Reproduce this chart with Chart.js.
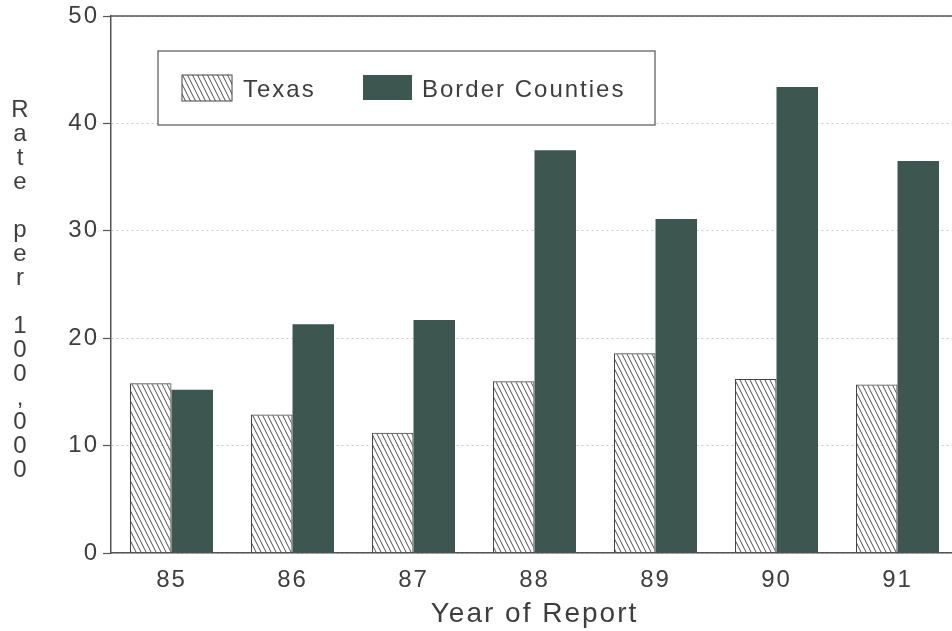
<!DOCTYPE html>
<html>
<head>
<meta charset="utf-8">
<script src="https://cdn.jsdelivr.net/npm/chart.js@4"></script>
<style>
  html, body { margin: 0; padding: 0; background: #fff; overflow: hidden; }
  .wrap { width: 970px; height: 631px; position: relative; }
</style>
</head>
<body>
<div class="wrap"><canvas id="barChart"></canvas></div>
<script>
const years = ["85", "86", "87", "88", "89", "90", "91"];
const texasRates = [15.8, 12.9, 11.2, 16.0, 18.6, 16.2, 15.7];
const borderRates = [15.2, 21.3, 21.7, 37.5, 31.1, 43.4, 36.5];
const yTicks = [0, 10, 20, 30, 40, 50];
const yTitle = "Rate per 100,000";

const inkColor = "#3e3e3e";
const axisColor = "#555";
const borderFill = "#3d5650";
const fontFamily = "'Liberation Sans', Arial, sans-serif";

// Hatch pattern for Texas bars (lines going down to the right)
function makeHatch() {
  const tile = document.createElement("canvas");
  tile.width = 5;
  tile.height = 10;
  const c = tile.getContext("2d");
  c.strokeStyle = "#3a3a3a";
  c.lineWidth = 0.9;
  [-5, 0, 5].forEach((dx) => {
    c.beginPath();
    c.moveTo(dx, 0);
    c.lineTo(dx + 5, 10);
    c.stroke();
  });
  return c.createPattern(tile, "repeat");
}
const hatch = makeHatch();

// Wide letter spacing for every text on the canvas
const spacingPlugin = {
  id: "spacing",
  beforeLayout(chart) {
    chart.ctx.letterSpacing = "2px";
  },
  beforeDraw(chart) {
    chart.ctx.letterSpacing = "2px";
  },
};

// Top frame line, stacked y title and boxed legend
const extrasPlugin = {
  id: "extras",
  afterDraw(chart) {
    const ctx = chart.ctx;
    const area = chart.chartArea;
    ctx.save();
    ctx.letterSpacing = "0px";

    // top frame
    ctx.strokeStyle = axisColor;
    ctx.lineWidth = 1.5;
    ctx.beginPath();
    ctx.moveTo(area.left, area.top);
    ctx.lineTo(area.right, area.top);
    ctx.stroke();

    // vertical title, one character per line
    ctx.fillStyle = inkColor;
    ctx.font = "24px " + fontFamily;
    ctx.textAlign = "center";
    ctx.textBaseline = "middle";
    yTitle.split("").forEach((ch, i) => {
      if (ch !== " ") ctx.fillText(ch, 20, 110 + i * 24);
    });

    // legend box
    const lx = area.left + 47;
    const ly = area.top + 35;
    ctx.fillStyle = "#fff";
    ctx.fillRect(lx, ly, 497, 74);
    ctx.strokeStyle = axisColor;
    ctx.lineWidth = 1.2;
    ctx.strokeRect(lx, ly, 497, 74);

    ctx.fillStyle = hatch;
    ctx.fillRect(lx + 24, ly + 24, 50, 26);
    ctx.strokeStyle = "#444";
    ctx.lineWidth = 1;
    ctx.strokeRect(lx + 24, ly + 24, 50, 26);

    ctx.fillStyle = borderFill;
    ctx.fillRect(lx + 205, ly + 24, 49, 25);

    ctx.letterSpacing = "2px";
    ctx.fillStyle = inkColor;
    ctx.textAlign = "left";
    ctx.font = "24px " + fontFamily;
    ctx.fillText(chart.data.datasets[0].label, lx + 85, ly + 39);
    ctx.fillText(chart.data.datasets[1].label, lx + 264, ly + 39);
    ctx.restore();
  },
};

const barChart = new Chart(document.getElementById("barChart"), {
  type: "bar",
  data: {
    labels: years,
    datasets: [
      {
        label: "Texas",
        data: texasRates,
        backgroundColor: hatch,
        borderColor: "#444",
        borderWidth: 1,
        borderSkipped: "bottom",
      },
      {
        label: "Border Counties",
        data: borderRates,
        backgroundColor: borderFill,
        borderWidth: 0,
      },
    ],
  },
  options: {
    responsive: true,
    maintainAspectRatio: false,
    animation: false,
    categoryPercentage: 0.686,
    barPercentage: 1,
    layout: { padding: { top: 15, right: 12, left: 0, bottom: 0 } },
    plugins: {
      legend: { display: false },
      tooltip: { enabled: false },
    },
    scales: {
      x: {
        grid: { display: false, drawTicks: false },
        border: { display: true, color: axisColor, width: 1.5 },
        ticks: {
          color: inkColor,
          font: { family: fontFamily, size: 24 },
          padding: 13,
        },
        title: {
          display: true,
          text: "Year of Report",
          color: inkColor,
          font: { family: fontFamily, size: 28 },
          padding: { top: 0, bottom: 0 },
        },
        afterFit(scale) {
          scale.height = 78;
        },
      },
      y: {
        min: 0,
        max: 50,
        afterBuildTicks(scale) {
          scale.ticks = yTicks.map((v) => ({ value: v }));
        },
        grid: {
          color: "#c8c8c8",
          lineWidth: 1,
          tickColor: axisColor,
          tickLength: 8,
          tickWidth: 1.2,
        },
        border: { display: true, color: axisColor, width: 1.5, dash: [2, 3] },
        ticks: {
          color: inkColor,
          font: { family: fontFamily, size: 24, lineHeight: 1 },
          padding: 4,
        },
        afterFit(scale) {
          scale.width = 111;
        },
      },
    },
  },
  plugins: [spacingPlugin, extrasPlugin],
});
</script>
</body>
</html>
